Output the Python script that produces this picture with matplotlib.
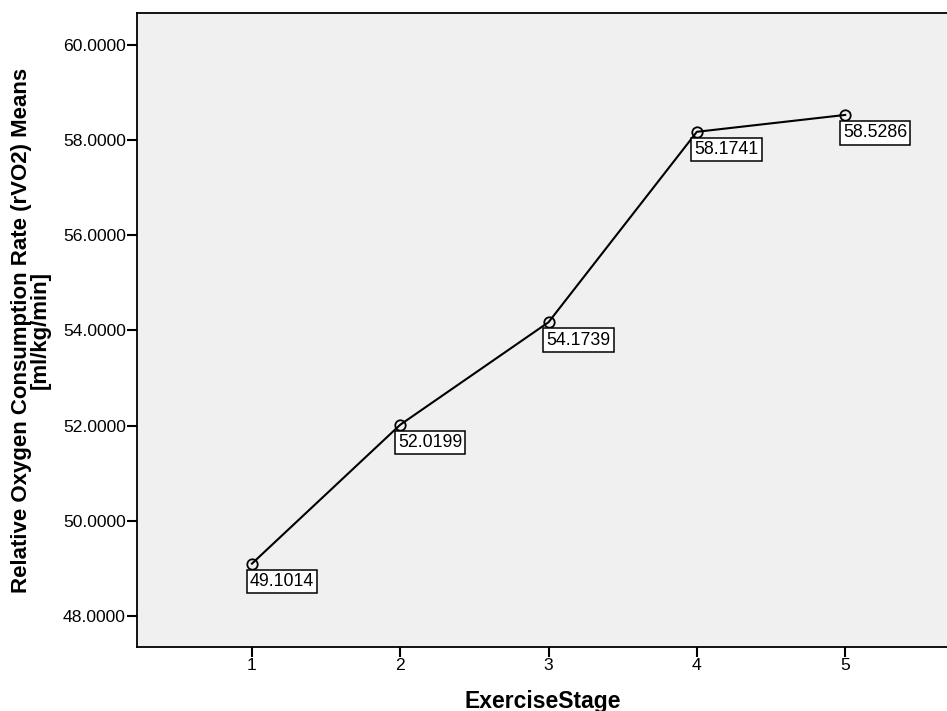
import matplotlib.pyplot as plt

plt.rcParams['font.family'] = ['Liberation Sans', 'DejaVu Sans']

stages = [1, 2, 3, 4, 5]
means = [49.1014, 52.0199, 54.1739, 58.1741, 58.5286]
labels = ['49.1014', '52.0199', '54.1739', '58.1741', '58.5286']
yticks = [48, 50, 52, 54, 56, 58, 60]

fig = plt.figure(figsize=(9.47, 7.11), dpi=100)
ax = fig.add_axes([137 / 947, 64 / 711, 812 / 947, 634 / 711])
ax.set_facecolor('#f0f0f0')

ax.plot(stages, means, color='black', linewidth=1.5, marker='o',
        markersize=7.5, markerfacecolor='none', markeredgecolor='black',
        markeredgewidth=1.3, zorder=3)

for x, y, lab in zip(stages, means, labels):
    ax.annotate(lab, (x, y), xytext=(-1.6, -6.8), textcoords='offset points',
                ha='left', va='top', fontsize=12.8,
                bbox=dict(boxstyle='square,pad=0.18', fc='white', ec='black', lw=1.1),
                zorder=4)

ax.set_xlim(0.225, 5.7)
ax.set_ylim(47.35, 60.67)
ax.set_xticks(stages)
ax.set_yticks(yticks)
ax.set_yticklabels([f'{v:.4f}' for v in yticks])
ax.tick_params(axis='both', length=7, width=1.5, labelsize=12.6, direction='out', pad=1)

for s in ax.spines.values():
    s.set_linewidth(1.3)

ax.set_xlabel('ExerciseStage', fontsize=16.5, fontweight='bold', labelpad=12)
ax.set_ylabel('Relative Oxygen Consumption Rate (rVO2) Means\n[ml/kg/min]',
              fontsize=16, fontweight='bold', labelpad=9, linespacing=0.85)

fig.savefig('out.png', dpi=100)
